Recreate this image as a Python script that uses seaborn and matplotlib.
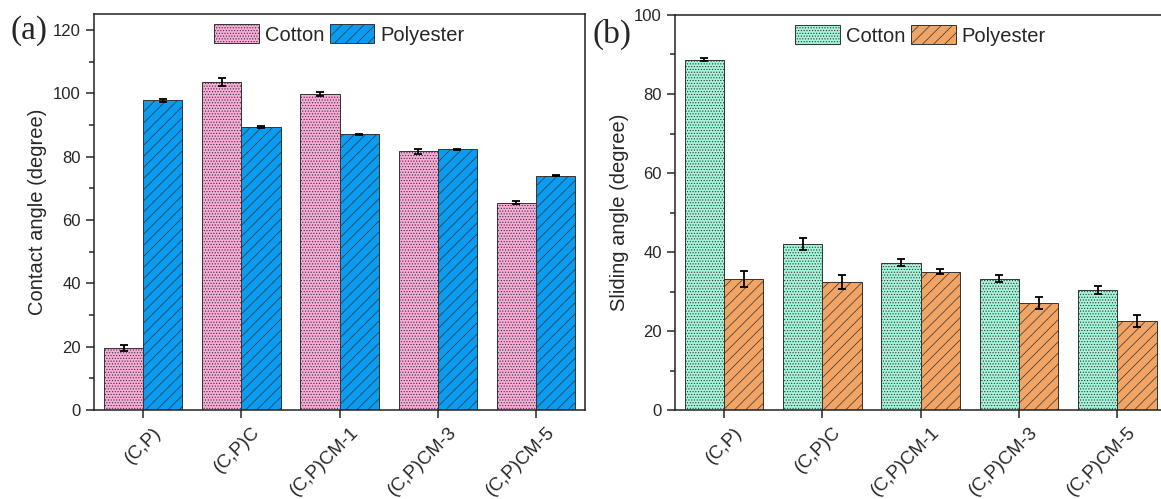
import pandas as pd
import matplotlib.pyplot as plt
import matplotlib.transforms as mtransforms
from matplotlib.ticker import MultipleLocator
import seaborn as sns

samples = ["(C,P)", "(C,P)C", "(C,P)CM-1", "(C,P)CM-3", "(C,P)CM-5"]
fabrics = ["Cotton", "Polyester"]

# contact angle (a)
ca_cotton = [19.6, 103.5, 99.8, 81.7, 65.5]
ca_cotton_err = [1.0, 1.3, 0.7, 0.8, 0.4]
ca_poly = [97.8, 89.2, 87.0, 82.3, 74.0]
ca_poly_err = [0.5, 0.3, 0.2, 0.2, 0.2]

# sliding angle (b)
sa_cotton = [88.7, 42.0, 37.3, 33.3, 30.4]
sa_cotton_err = [0.3, 1.5, 0.9, 0.9, 0.9]
sa_poly = [33.2, 32.5, 35.0, 27.2, 22.5]
sa_poly_err = [2.0, 1.8, 0.6, 1.5, 1.5]

sns.set_style("ticks")
plt.rcParams["font.family"] = ["Liberation Sans", "DejaVu Sans"]
plt.rcParams["hatch.linewidth"] = 0.5
plt.rcParams["axes.linewidth"] = 1.1


def make_df(cotton, poly):
    return pd.DataFrame({
        "sample": samples * 2,
        "fabric": ["Cotton"] * len(samples) + ["Polyester"] * len(samples),
        "angle": cotton + poly,
    })


def draw(ax, cotton, cotton_err, poly, poly_err, colors, ylim, ylabel):
    df = make_df(cotton, poly)
    sns.barplot(data=df, x="sample", y="angle", hue="fabric", hue_order=fabrics,
                palette=colors, saturation=1, errorbar=None, width=0.8, ax=ax,
                edgecolor="#333333", linewidth=0.7)
    hatches = ["......", "///"]
    for cont, h, err in zip(ax.containers, hatches, [cotton_err, poly_err]):
        xs, ys = [], []
        for p in cont:
            p.set_hatch(h)
            xs.append(p.get_x() + p.get_width() / 2)
            ys.append(p.get_height())
        ax.errorbar(xs, ys, yerr=err, fmt="none", ecolor="black",
                    elinewidth=1.3, capsize=3.2, capthick=1.3, zorder=5)
    ax.set_xlim(-0.5, 4.5)
    ax.set_ylim(*ylim)
    ax.yaxis.set_major_locator(MultipleLocator(20))
    ax.yaxis.set_minor_locator(MultipleLocator(10))
    ax.tick_params(axis="y", which="major", length=6, width=1.1, labelsize=12, direction="out")
    ax.tick_params(axis="y", which="minor", length=3.5, width=1.1, direction="out")
    ax.tick_params(axis="x", length=6, width=1.1, labelsize=13.5, pad=4)
    for lab in ax.get_xticklabels():
        lab.set_rotation(45)
        lab.set_ha("right")
        lab.set_va("top")
        lab.set_transform(lab.get_transform() + mtransforms.ScaledTranslation(0.22, 0, ax.figure.dpi_scale_trans))
    ax.set_xlabel("")
    ax.set_ylabel(ylabel, fontsize=14.5, labelpad=4)
    for s in ax.spines.values():
        s.set_visible(True)
        s.set_linewidth(1.1)
        s.set_color("#222222")
    ax.legend(handles=ax.containers, labels=fabrics, loc="upper center", ncol=2,
              frameon=False, fontsize=14.5, handlelength=2.2, handleheight=1.1,
              handletextpad=0.3, columnspacing=0.3, borderaxespad=0.1)


fig = plt.figure(figsize=(11.61, 4.99), dpi=100)
ax1 = fig.add_axes([0.081, 0.178, 0.423, 0.794])
ax2 = fig.add_axes([0.5814, 0.178, 0.4232, 0.792])

draw(ax1, ca_cotton, ca_cotton_err, ca_poly, ca_poly_err,
     ["#F9ACD8", "#0A9CF0"], (0, 125), "Contact angle (degree)")
draw(ax2, sa_cotton, sa_cotton_err, sa_poly, sa_poly_err,
     ["#A5F5DA", "#F2A464"], (0, 100), "Sliding angle (degree)")

fig.text(10 / 1161, 1 - 31 / 499, "(a)", family=["Liberation Serif", "DejaVu Serif"],
         fontsize=24, ha="left", va="center")
fig.text(593 / 1161, 1 - 34 / 499, "(b)", family=["Liberation Serif", "DejaVu Serif"],
         fontsize=24, ha="left", va="center")

fig.savefig("out.png", dpi=100)
